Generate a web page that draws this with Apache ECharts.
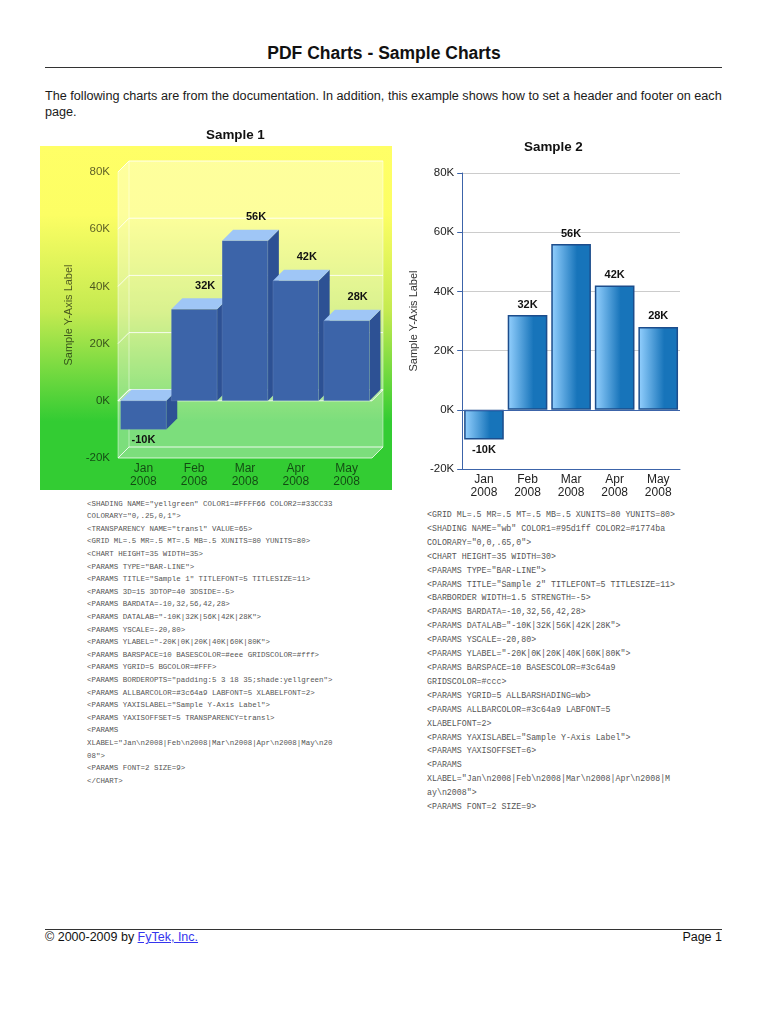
<!DOCTYPE html>
<html>
<head>
<meta charset="utf-8">
<script src="https://cdn.jsdelivr.net/npm/echarts@6/dist/echarts.min.js"></script>
<style>
  html, body { margin: 0; padding: 0; background: #fff; }
  body { width: 768px; height: 1024px; position: relative; overflow: hidden;
         font-family: "Liberation Sans", Arial, Helvetica, sans-serif; color: #111; }
  .abs { position: absolute; }
  #hdr { left: 0; width: 768px; top: 42px; text-align: center; font-weight: bold; font-size: 17.5px; line-height: 22px; }
  #hdrRule { left: 45px; width: 677px; top: 67px; height: 0; border-top: 1.3px solid #333; }
  #intro { left: 45px; top: 88px; font-size: 12.65px; line-height: 16px; white-space: nowrap; color: #1a1a1a; }
  #bg1 { left: 40px; top: 146px; width: 352px; height: 344px;
         background: linear-gradient(to bottom, #ffff66 0%, #fcfe64 20%, #c4ea50 48%, #33cc33 80%, #33cc33 100%); }
  #c1 { left: 40px; top: 120px; width: 352px; height: 372px; }
  #c2 { left: 400px; top: 130px; width: 330px; height: 370px; }
  pre { margin: 0; font-family: "Liberation Mono", "DejaVu Sans Mono", monospace; color: #555; }
  #code1 { left: 87px; top: 497.7px; font-size: 7.44px; line-height: 12.6px; }
  #code2 { left: 427px; top: 508px; font-size: 8.28px; line-height: 13.9px; }
  #ftrRule { left: 45px; width: 677px; top: 929px; height: 0; border-top: 1.3px solid #333; }
  #ftr { left: 45px; top: 930px; font-size: 12.5px; line-height: 15px; }
  #ftr a { color: #3535ee; text-decoration: underline; }
  #page { right: 46px; top: 930px; font-size: 12.5px; line-height: 15px; }
</style>
</head>
<body>
<div id="hdr" class="abs">PDF Charts - Sample Charts</div>
<div id="hdrRule" class="abs"></div>
<div id="intro" class="abs">The following charts are from the documentation. In addition, this example shows how to set a header and footer on each<br>page.</div>

<div id="bg1" class="abs"></div>
<div id="c1" class="abs"></div>
<div id="c2" class="abs"></div>

<pre id="code1" class="abs">&lt;SHADING NAME="yellgreen" COLOR1=#FFFF66 COLOR2=#33CC33
COLORARY="0,.25,0,1"&gt;
&lt;TRANSPARENCY NAME="transl" VALUE=65&gt;
&lt;GRID ML=.5 MR=.5 MT=.5 MB=.5 XUNITS=80 YUNITS=80&gt;
&lt;CHART HEIGHT=35 WIDTH=35&gt;
&lt;PARAMS TYPE="BAR-LINE"&gt;
&lt;PARAMS TITLE="Sample 1" TITLEFONT=5 TITLESIZE=11&gt;
&lt;PARAMS 3D=15 3DTOP=40 3DSIDE=-5&gt;
&lt;PARAMS BARDATA=-10,32,56,42,28&gt;
&lt;PARAMS DATALAB="-10K|32K|56K|42K|28K"&gt;
&lt;PARAMS YSCALE=-20,80&gt;
&lt;PARAMS YLABEL="-20K|0K|20K|40K|60K|80K"&gt;
&lt;PARAMS BARSPACE=10 BASESCOLOR=#eee GRIDSCOLOR=#fff&gt;
&lt;PARAMS YGRID=5 BGCOLOR=#FFF&gt;
&lt;PARAMS BORDEROPTS="padding:5 3 18 35;shade:yellgreen"&gt;
&lt;PARAMS ALLBARCOLOR=#3c64a9 LABFONT=5 XLABELFONT=2&gt;
&lt;PARAMS YAXISLABEL="Sample Y-Axis Label"&gt;
&lt;PARAMS YAXISOFFSET=5 TRANSPARENCY=transl&gt;
&lt;PARAMS
XLABEL="Jan\n2008|Feb\n2008|Mar\n2008|Apr\n2008|May\n20
08"&gt;
&lt;PARAMS FONT=2 SIZE=9&gt;
&lt;/CHART&gt;</pre>

<pre id="code2" class="abs">&lt;GRID ML=.5 MR=.5 MT=.5 MB=.5 XUNITS=80 YUNITS=80&gt;
&lt;SHADING NAME="wb" COLOR1=#95d1ff COLOR2=#1774ba
COLORARY="0,0,.65,0"&gt;
&lt;CHART HEIGHT=35 WIDTH=30&gt;
&lt;PARAMS TYPE="BAR-LINE"&gt;
&lt;PARAMS TITLE="Sample 2" TITLEFONT=5 TITLESIZE=11&gt;
&lt;BARBORDER WIDTH=1.5 STRENGTH=-5&gt;
&lt;PARAMS BARDATA=-10,32,56,42,28&gt;
&lt;PARAMS DATALAB="-10K|32K|56K|42K|28K"&gt;
&lt;PARAMS YSCALE=-20,80&gt;
&lt;PARAMS YLABEL="-20K|0K|20K|40K|60K|80K"&gt;
&lt;PARAMS BARSPACE=10 BASESCOLOR=#3c64a9
GRIDSCOLOR=#ccc&gt;
&lt;PARAMS YGRID=5 ALLBARSHADING=wb&gt;
&lt;PARAMS ALLBARCOLOR=#3c64a9 LABFONT=5
XLABELFONT=2&gt;
&lt;PARAMS YAXISLABEL="Sample Y-Axis Label"&gt;
&lt;PARAMS YAXISOFFSET=6&gt;
&lt;PARAMS
XLABEL="Jan\n2008|Feb\n2008|Mar\n2008|Apr\n2008|M
ay\n2008"&gt;
&lt;PARAMS FONT=2 SIZE=9&gt;</pre>

<div id="ftrRule" class="abs"></div>
<div id="ftr" class="abs">© 2000-2009 by <a href="#">FyTek, Inc.</a></div>
<div id="page" class="abs">Page 1</div>

<script>
// ---- data ----
const categories = ['Jan\n2008', 'Feb\n2008', 'Mar\n2008', 'Apr\n2008', 'May\n2008'];
const barValues = [-10, 32, 56, 42, 28];
const dataLabels = ['-10K', '32K', '56K', '42K', '28K'];
const yTicks = [-20, 0, 20, 40, 60, 80];
const yTickLabels = ['-20K', '0K', '20K', '40K', '60K', '80K'];
const yAxisName = 'Sample Y-Axis Label';
const yMin = -20, yMax = 80, yStep = 20;

const FONT = '"Liberation Sans", Arial, Helvetica, sans-serif';
const DEPTH = 11;
const tickFmt = function (v) { const i = yTicks.indexOf(v); return i >= 0 ? yTickLabels[i] : ''; };

// ---- chart 1 : 3D bars on shaded background ----
const chart1 = echarts.init(document.getElementById('c1'), null, { renderer: 'canvas' });
const textCol1 = 'rgba(0,0,0,0.64)';

function renderWall(params, api) {
  const cs = params.coordSys, d = DEPTH;
  const x0 = cs.x, y0 = cs.y, w = cs.width, h = cs.height;
  const edge = { stroke: 'rgba(255,255,255,0.75)', lineWidth: 1, fill: null };
  const faint = { stroke: 'rgba(255,255,255,0.45)', lineWidth: 1, fill: null };
  return {
    type: 'group',
    children: [
      { type: 'polygon', shape: { points: [[x0, y0], [x0 + d, y0 - d], [x0 + w + d, y0 - d], [x0 + w + d, y0 + h - d], [x0 + w, y0 + h], [x0, y0 + h]] },
        style: { fill: 'rgba(255,255,255,0.36)' } },
      { type: 'line', shape: { x1: x0, y1: y0, x2: x0, y2: y0 + h }, style: faint },
      { type: 'line', shape: { x1: x0 + d, y1: y0 - d, x2: x0 + d, y2: y0 + h - d }, style: faint },
      { type: 'line', shape: { x1: x0 + w + d, y1: y0 - d, x2: x0 + w + d, y2: y0 + h - d }, style: faint },
      { type: 'line', shape: { x1: x0, y1: y0 + h, x2: x0 + w, y2: y0 + h }, style: edge },
      { type: 'line', shape: { x1: x0 + w, y1: y0 + h, x2: x0 + w + d, y2: y0 + h - d }, style: edge }
    ]
  };
}

function renderGridLine(params, api) {
  const cs = params.coordSys, d = DEPTH;
  const v = api.value(1);
  const y = api.coord([0, v])[1];
  const x0 = cs.x, w = cs.width;
  const st = { stroke: 'rgba(255,255,255,0.85)', lineWidth: 1, fill: null };
  const children = [
    { type: 'line', shape: { x1: x0, y1: y, x2: x0 + d, y2: y - d }, style: st },
    { type: 'line', shape: { x1: x0 + d, y1: y - d, x2: x0 + w + d, y2: y - d }, style: st }
  ];
  if (v === 0) {
    children.push({ type: 'polygon', shape: { points: [[x0, y], [x0 + d, y - d], [x0 + w + d, y - d], [x0 + w, y]] },
      style: { fill: 'rgba(238,238,238,0.3)', stroke: 'rgba(255,255,255,0.85)', lineWidth: 1 } });
  }
  return { type: 'group', children: children };
}

function renderBar3d(params, api) {
  const i = api.value(0), v = api.value(1);
  const base = api.coord([i, 0]);
  const tip = api.coord([i, v]);
  const w = api.size([1, 0])[0] * 0.9;
  const cx = base[0], d = DEPTH;
  const l = cx - w / 2, r = cx + w / 2;
  const top = Math.min(base[1], tip[1]), bot = Math.max(base[1], tip[1]);
  const lx = v >= 0 ? cx + d : cx;
  const ly = v >= 0 ? top - d - 12.5 : bot + 10.7;
  return {
    type: 'group',
    children: [
      { type: 'polygon', shape: { points: [[r, top], [r + d, top - d], [r + d, bot - d], [r, bot]] }, style: { fill: '#2d5194' } },
      { type: 'polygon', shape: { points: [[l, top], [l + d, top - d], [r + d, top - d], [r, top]] }, style: { fill: '#9fc6f6' } },
      { type: 'rect', shape: { x: l, y: top, width: w, height: bot - top }, style: { fill: '#3c64a9', stroke: 'rgba(255,255,255,0.18)', lineWidth: 0.6 } },
      { type: 'text', style: { text: dataLabels[params.dataIndex], x: lx, y: ly, align: 'center', verticalAlign: 'middle',
          fontSize: 11, fontWeight: 'bold', fontFamily: FONT, fill: '#111' } }
    ]
  };
}

chart1.setOption({
  animation: false,
  title: { text: 'Sample 1', left: 166, top: 8, padding: 0,
    textStyle: { fontSize: 13.4, fontWeight: 'bold', fontFamily: FONT, color: '#111', lineHeight: 15 } },
  grid: { left: 78, top: 52, width: 254, height: 286, containLabel: false },
  xAxis: { type: 'category', data: categories,
    axisLine: { show: false }, axisTick: { show: false }, splitLine: { show: false },
    axisLabel: { color: textCol1, fontSize: 12, lineHeight: 13, margin: 4, fontFamily: FONT } },
  yAxis: { type: 'value', min: yMin, max: yMax, interval: yStep,
    axisLine: { show: false }, axisTick: { show: false }, splitLine: { show: false },
    axisLabel: { formatter: tickFmt, color: textCol1, fontSize: 11.5, margin: 8, fontFamily: FONT },
    name: yAxisName, nameLocation: 'middle', nameGap: 41, nameRotate: 90,
    nameTextStyle: { color: textCol1, fontSize: 11, fontFamily: FONT } },
  series: [
    { type: 'custom', z: 1, silent: true, renderItem: renderWall, data: [[0, yMin]] },
    { type: 'custom', z: 2, silent: true, renderItem: renderGridLine, data: yTicks.map(function (v) { return [0, v]; }) },
    { type: 'custom', z: 3, renderItem: renderBar3d, data: barValues.map(function (v, i) { return [i, v]; }) }
  ]
});

// ---- chart 2 : flat shaded bars ----
const chart2 = echarts.init(document.getElementById('c2'), null, { renderer: 'canvas' });
const axisBlue = '#3c64a9';
const barGrad = new echarts.graphic.LinearGradient(0, 0, 1, 0, [
  { offset: 0, color: '#95d1ff' },
  { offset: 0.65, color: '#1774ba' },
  { offset: 1, color: '#1774ba' }
]);

chart2.setOption({
  animation: false,
  title: { text: 'Sample 2', left: 124, top: 10, padding: 0,
    textStyle: { fontSize: 13.4, fontWeight: 'bold', fontFamily: FONT, color: '#111', lineHeight: 15 } },
  grid: { left: 54, top: 43, width: 226, height: 296, containLabel: false },
  xAxis: { type: 'category', data: categories,
    axisLine: { show: true, onZero: false, lineStyle: { color: axisBlue, width: 1 } },
    axisTick: { show: false },
    axisLabel: { color: '#222', fontSize: 12, lineHeight: 13, margin: 4, fontFamily: FONT } },
  yAxis: { type: 'value', min: yMin, max: yMax, interval: yStep,
    axisLine: { show: true, lineStyle: { color: axisBlue, width: 1 } },
    axisTick: { show: true, length: 5, lineStyle: { color: axisBlue } },
    splitLine: { show: true, lineStyle: { color: '#cccccc', width: 1 } },
    axisLabel: { formatter: tickFmt, color: '#222', fontSize: 11.5, margin: 8, fontFamily: FONT },
    name: yAxisName, nameLocation: 'middle', nameGap: 40.5, nameRotate: 90,
    nameTextStyle: { color: '#333', fontSize: 11, fontFamily: FONT } },
  series: [{
    type: 'bar', barCategoryGap: '9%',
    itemStyle: { color: barGrad, borderColor: '#1c4d8c', borderWidth: 1.5 },
    data: barValues.map(function (v, i) {
      return { value: v, label: { position: v >= 0 ? 'top' : 'bottom' } };
    }),
    label: { show: true, distance: 5, formatter: function (p) { return dataLabels[p.dataIndex]; },
      fontSize: 11, fontWeight: 'bold', fontFamily: FONT, color: '#111' },
    markLine: { silent: true, symbol: 'none', label: { show: false },
      lineStyle: { color: axisBlue, type: 'solid', width: 1 },
      data: [{ yAxis: 0 }] }
  }]
});
</script>
</body>
</html>
